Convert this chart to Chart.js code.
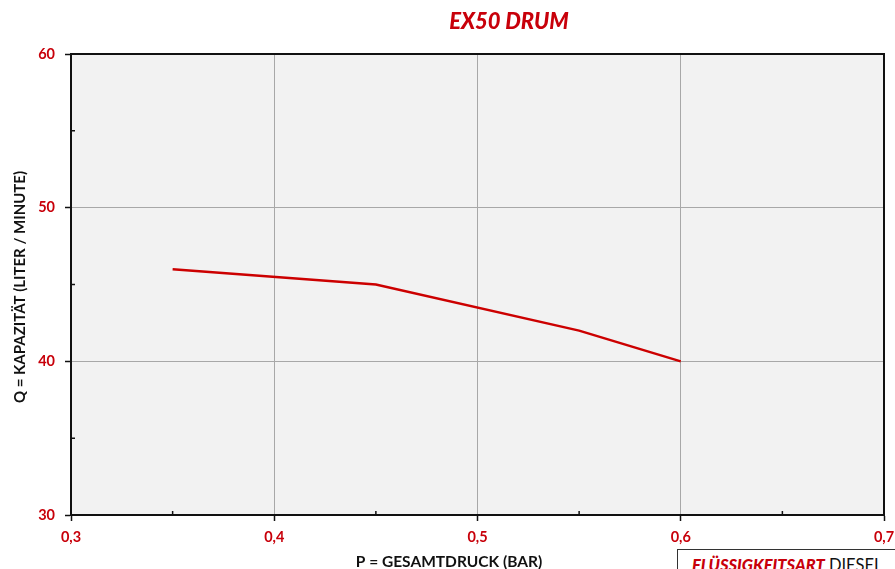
<!DOCTYPE html>
<html>
<head>
<meta charset="utf-8">
<script src="https://cdn.jsdelivr.net/npm/chart.js@4.4.1/dist/chart.umd.min.js"></script>
<style>
  html, body { margin: 0; padding: 0; background: #ffffff; overflow: hidden; }
  #wrap { position: relative; width: 895px; height: 569px; }
  #info { position: absolute; left: 677px; top: 549px; width: 320px; height: 50px;
          border: 1px solid #333; box-sizing: border-box; background: #fff;
          font-family: Lato, sans-serif; font-size: 16.5px; padding: 5px 0 0 14px; white-space: nowrap; }
  #info .k { color: #c8000a; font-style: italic; font-weight: 900; }
  #info .v { color: #111; }
</style>
</head>
<body>
<div id="wrap">
  <canvas id="c" width="895" height="569"></canvas>
  <div id="info"><span class="k">FLÜSSIGKEITSART</span> <span class="v">DIESEL</span></div>
</div>
<script>
const chartTitle = "EX50 DRUM";
const xAxisTitle = "P = GESAMTDRUCK (BAR)";
const yAxisTitle = "Q = KAPAZITÄT (LITER / MINUTE)";
const pressure = [0.35, 0.45, 0.55, 0.6];
const capacity = [46, 45, 42, 40];
const xTicks = [0.3, 0.4, 0.5, 0.6, 0.7];
const yTicks = [30, 40, 50, 60];
const xMinorTicks = [0.35, 0.45, 0.55, 0.65];
const yMinorTicks = [35, 45, 55];

const RED = '#c8000a';

const decor = {
  id: 'decor',
  beforeDraw(chart) {
    const { ctx, chartArea: a } = chart;
    ctx.save();
    ctx.fillStyle = '#f2f2f2';
    ctx.fillRect(a.left, a.top, a.right - a.left, a.bottom - a.top);
    ctx.restore();
  },
  afterDraw(chart) {
    const { ctx, chartArea: a, scales } = chart;
    ctx.save();
    ctx.strokeStyle = '#111';
    ctx.lineWidth = 2;
    ctx.beginPath();
    ctx.moveTo(a.left, a.top); ctx.lineTo(a.right, a.top); ctx.lineTo(a.right, a.bottom);
    ctx.stroke();
    ctx.lineWidth = 1.5;
    ctx.beginPath();
    xMinorTicks.forEach(v => { const x = scales.x.getPixelForValue(v); ctx.moveTo(x, a.bottom); ctx.lineTo(x, a.bottom - 4); });
    yMinorTicks.forEach(v => { const y = scales.y.getPixelForValue(v); ctx.moveTo(a.left, y); ctx.lineTo(a.left + 4, y); });
    ctx.stroke();
    ctx.fillStyle = RED;
    ctx.font = 'italic 900 22px Lato';
    ctx.textAlign = 'center';
    ctx.textBaseline = 'middle';
    ctx.fillText(chartTitle, 509, 22);
    ctx.fillStyle = '#111';
    ctx.font = 'bold 15.5px Lato';
    ctx.fillText(xAxisTitle, 449, 562);
    ctx.font = 'bold 15px Lato';
    ctx.translate(20, 287);
    ctx.rotate(-Math.PI / 2);
    ctx.fillText(yAxisTitle, 0, 0);
    ctx.restore();
  }
};

const gridColor = (c) => (c.index === 0 || c.index === c.chart.scales[c.scale.id].ticks.length - 1) ? 'rgba(0,0,0,0)' : '#a8a8a8';
const tickFont = { family: 'Lato', weight: 'bold', size: 14.5 };

new Chart(document.getElementById('c'), {
  type: 'line',
  data: {
    datasets: [{
      data: pressure.map((p, i) => ({ x: p, y: capacity[i] })),
      borderColor: '#cc0000',
      borderWidth: 2.5,
      pointRadius: 0,
      tension: 0,
      fill: false
    }]
  },
  options: {
    responsive: false,
    animation: false,
    layout: { padding: { top: 54, right: 11, left: 0, bottom: 0 } },
    plugins: { legend: { display: false }, tooltip: { enabled: false }, title: { display: false } },
    scales: {
      x: {
        type: 'linear', min: 0.3, max: 0.7,
        afterBuildTicks: s => { s.ticks = xTicks.map(v => ({ value: v })); },
        afterFit: s => { s.height = 54; s.paddingLeft = 0; s.paddingRight = 0; },
        grid: { color: gridColor, lineWidth: 1, tickColor: '#111', tickLength: 6, tickWidth: 1.5 },
        border: { color: '#111', width: 2 },
        ticks: {
          color: RED, font: tickFont, padding: 8,
          callback: v => v.toFixed(1).replace('.', ',')
        }
      },
      y: {
        type: 'linear', min: 30, max: 60,
        afterBuildTicks: s => { s.ticks = yTicks.map(v => ({ value: v })); },
        afterFit: s => { s.width = 71; s.paddingTop = 0; s.paddingBottom = 0; },
        grid: { color: gridColor, lineWidth: 1, tickColor: '#111', tickLength: 6, tickWidth: 1.5 },
        border: { color: '#111', width: 2 },
        ticks: {
          color: RED, font: tickFont, padding: 10,
          callback: v => String(v)
        }
      }
    }
  },
  plugins: [decor]
});
</script>
</body>
</html>
